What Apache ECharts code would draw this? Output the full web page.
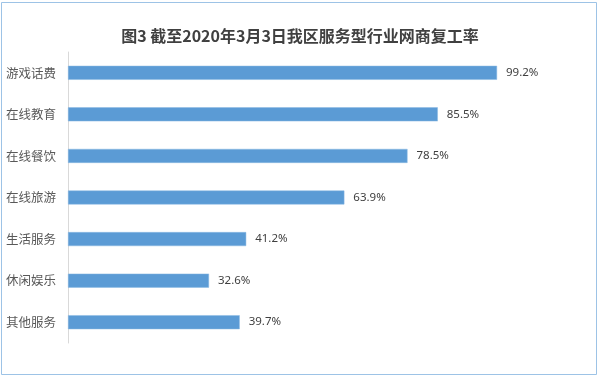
<!DOCTYPE html>
<html>
<head>
<meta charset="utf-8">
<script src="https://cdn.jsdelivr.net/npm/echarts@6/dist/echarts.min.js"></script>
<style>
  html, body { margin: 0; padding: 0; background: #fff; }
  #chart { width: 600px; height: 378px; }
</style>
</head>
<body>
<div id="chart"></div>
<script>
// 数据
const categories = ['游戏话费', '在线教育', '在线餐饮', '在线旅游', '生活服务', '休闲娱乐', '其他服务'];
const rates = [99.2, 85.5, 78.5, 63.9, 41.2, 32.6, 39.7];

const myChart = echarts.init(document.getElementById('chart'));

const option = {
  backgroundColor: '#fff',
  animation: false,
  title: {
    text: '图3 截至2020年3月3日我区服务型行业网商复工率',
    left: 'center',
    top: 23,
    textStyle: {
      fontFamily: 'Noto Sans CJK SC',
      fontSize: 16,
      fontWeight: 'bold',
      color: '#404040'
    }
  },
  graphic: [
    {
      type: 'rect',
      shape: { x: 1.5, y: 2.5, width: 595, height: 372 },
      style: { fill: 'none', stroke: '#9dc3e6', lineWidth: 1 },
      silent: true
    }
  ],
  grid: {
    left: 68,
    top: 52,
    width: 519,
    height: 291
  },
  xAxis: {
    type: 'value',
    min: 0,
    max: 120,
    show: false
  },
  yAxis: {
    type: 'category',
    data: categories,
    inverse: true,
    axisLine: { show: true, lineStyle: { color: '#d9d9d9', width: 1 } },
    axisTick: { show: false },
    axisLabel: {
      margin: 12,
      fontFamily: 'Noto Sans CJK SC',
      fontSize: 12.5,
      color: '#595959'
    }
  },
  series: [
    {
      type: 'bar',
      data: rates,
      barWidth: 14,
      itemStyle: {
        color: '#5b9bd5',
        borderColor: '#8ab8e3',
        borderWidth: 0.5
      },
      label: {
        show: true,
        position: 'right',
        distance: 9,
        formatter: p => p.value.toFixed(1) + '%',
        fontFamily: 'Noto Sans',
        fontSize: 11.5,
        color: '#404040'
      }
    }
  ]
};

myChart.setOption(option);
</script>
</body>
</html>
